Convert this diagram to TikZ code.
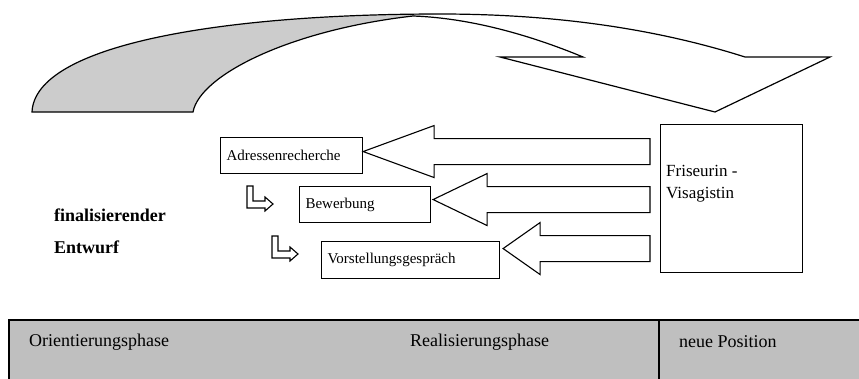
\documentclass[tikz,border=0pt]{standalone}
\usepackage{fontspec}
\setmainfont{Liberation Serif}
\usetikzlibrary{calc}

\newcommand{\blockarrow}[3]{%
  \draw[blockarr] let \p1=(#1), \p2=(#2) in
    (\p1) -- ({\x1+#3pt},{\y1+26pt}) -- ({\x1+#3pt},{\y1+13pt})
    -- (\x2,{\y1+13pt}) -- (\x2,{\y1-13pt}) -- ({\x1+#3pt},{\y1-13pt})
    -- ({\x1+#3pt},{\y1-26pt}) -- cycle;}
\newcommand{\bentarrow}[1]{%
  \draw[bentarr] (#1) -- ++(6,0) -- ++(0,15) -- ++(12,0) -- ++(0,-4) -- ++(8,7)
    -- ++(-8,7) -- ++(0,-3) -- ++(-18,0) -- cycle;}

\begin{document}
\begin{tikzpicture}[x=1pt,y=-1pt,
    taskbox/.style={draw,line width=1.1pt,anchor=north west,inner xsep=6pt,align=left,font=\fontsize{15}{18}\selectfont},
    blockarr/.style={draw,line width=1.1pt,fill=white,line join=miter},
    bentarr/.style={draw,line width=1.1pt,line join=miter},
    phase/.style={anchor=west,inner sep=0pt,font=\fontsize{18}{20}\selectfont}]
        \clip (0,0) rectangle (859,378);
        % grosser Bogenpfeil
        \fill[black!20] (32,112) .. controls (35,45) and (220,14) .. (440,14) -- (413,16) .. controls (290,30) and (200,75) .. (193,112) -- cycle;
        \draw[line width=1.2pt,line join=miter] (32,112) .. controls (35,45) and (220,14) .. (440,14) .. controls (560,14) and (660,30) .. (745,57)
            -- (830,57) -- (715,112) -- (500,57) -- (583,57) .. controls (530,35) and (470,18) .. (413,16)
            .. controls (290,30) and (200,75) .. (193,112) -- cycle;

        \node[taskbox,minimum width=142pt,minimum height=36pt,text width=130pt] (adr) at (220,137) {Adressenrecherche};
        \node[taskbox,minimum width=131pt,minimum height=36pt,text width=119pt] (bew) at (299,186) {Bewerbung};
        \node[taskbox,minimum width=178pt,minimum height=37pt,text width=166pt,inner xsep=5pt] (vor) at (321,241) {Vorstellungsgespr\"ach};
        \node[draw,line width=1.1pt,minimum width=142pt,minimum height=148pt,anchor=north west] (frbox) at (660,124) {};
        \node[anchor=west,inner sep=0pt,align=left,font=\fontsize{17}{22}\selectfont] (frtext) at (666,184) {Friseurin -\\Visagistin};

        \node[anchor=west,inner sep=0pt,align=left,font=\bfseries\fontsize{18}{32}\selectfont] (draft) at (54,231) {finalisierender\\Entwurf};

        % Blockpfeile zur Stelle
        \coordinate (tipA) at ([yshift=4pt]adr.east);
        \coordinate (tipB) at ([xshift=2pt,yshift=5pt]bew.east);
        \coordinate (tipC) at ([xshift=3pt,yshift=11.5pt]vor.east);
        \coordinate (tail) at ([xshift=-10pt]frbox.west);
        \blockarrow{tipA}{tail}{71}
        \blockarrow{tipB}{tail}{54}
        \blockarrow{tipC}{tail}{37}

        \bentarrow{247,186}
        \bentarrow{272,236}

        % Phasenleiste
        \fill[black!25] (9,320) rectangle (870,390);
        \draw[line width=1.1pt] (9,390) -- (9,320) -- (870,320);
        \draw[line width=1.1pt] (659,320) -- (659,390);
        \node[phase] (orient) at (29,342) {Orientierungsphase};
        \node[phase] (real) at (410,342) {Realisierungsphase};
        \node[phase] (neu) at (679,342) {neue Position};
    \end{tikzpicture}
\end{document}
